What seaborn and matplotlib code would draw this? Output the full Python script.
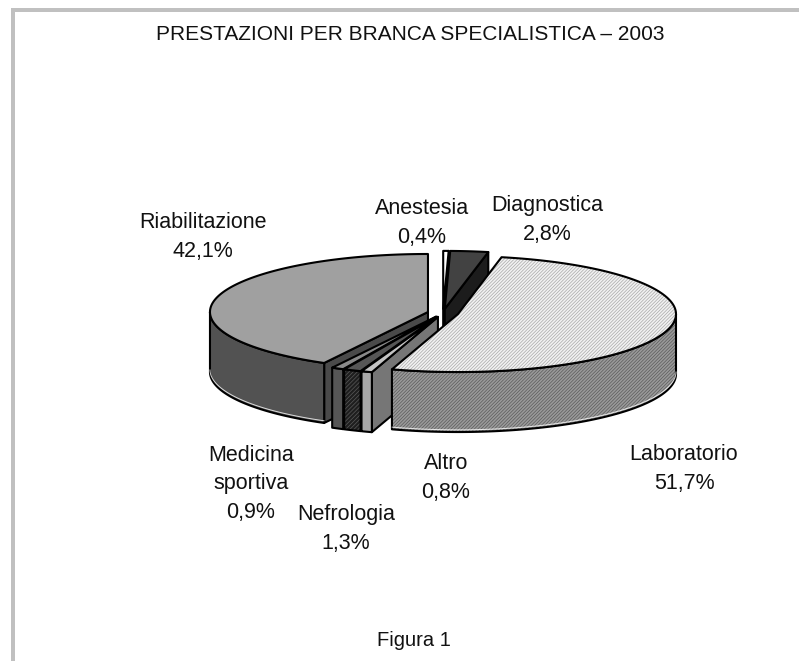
import numpy as np
import matplotlib
matplotlib.use("Agg")
import matplotlib.pyplot as plt
import seaborn as sns
from matplotlib.patches import Polygon

# values, clockwise from 12 o'clock
branches = ["Anestesia", "Diagnostica", "Laboratorio", "Altro", "Nefrologia", "Medicina\nsportiva", "Riabilitazione"]
shares = [0.4, 2.8, 51.7, 0.8, 1.3, 0.9, 42.1]
chart_title = "PRESTAZIONI PER BRANCA SPECIALISTICA – 2003"
figure_caption = "Figura 1"

# (top, outer wall, radial face, hatch on top, hatch on wall)
slice_styles = [
    ("#ffffff", "#ffffff", "#d0d0d0", None, None),
    ("#424242", "#2a2a2a", "#1c1c1c", None, None),
    ("#f2f2f2", "#9a9a9a", "#808080", "//////////", "//////////"),
    ("#c4c4c4", "#a8a8a8", "#767676", None, None),
    ("#555555", "#1e1e1e", "#3a3a3a", "////////", "////////"),
    ("#8a8a8a", "#565656", "#606060", None, None),
    ("#a0a0a0", "#525252", "#4a4a4a", None, None),
]
label_centres = [(422, 223), (547, 220), (684, 469), (446, 478), (346, 529), (251, 484), (203, 237)]

# pie geometry in pixels
CX, CY = 443, 313
RX, RY = 218, 58
DEPTH = 60
EXPLODE = 15.5


def edge_points(cx, cy, t):
    t = np.radians(t)
    return np.column_stack([cx + RX * np.sin(t), cy - RY * np.cos(t)])


def add_face(ax, pts, fc, hatch=None):
    if hatch:
        ax.add_patch(Polygon(pts, closed=True, facecolor=fc, edgecolor="#5a5a5a" if fc != "#f2f2f2" else "#a8a8a8",
                             hatch=hatch, linewidth=0))
    else:
        ax.add_patch(Polygon(pts, closed=True, facecolor=fc, edgecolor="none"))
    ax.add_patch(Polygon(pts, closed=True, facecolor="none", edgecolor="black", linewidth=1.5, joinstyle="round"))


def draw_slice(ax, t0, t1, style):
    top_c, wall_c, face_c, top_h, wall_h = style
    mid = np.radians((t0 + t1) / 2)
    cx = CX + EXPLODE * np.sin(mid)
    cy = CY - EXPLODE * np.cos(mid) * RY / RX
    down = np.array([0, DEPTH])
    apex = np.array([cx, cy])

    # radial faces that look towards the viewer
    if np.sin(np.radians(t0)) < -1e-6:
        p = edge_points(cx, cy, np.array([t0]))[0]
        add_face(ax, [apex, p, p + down, apex + down], face_c)
    if np.sin(np.radians(t1)) > 1e-6:
        p = edge_points(cx, cy, np.array([t1]))[0]
        add_face(ax, [apex, p, p + down, apex + down], face_c)

    # outer wall, only the front half shows
    a, b = max(t0, 90), min(t1, 270)
    if b > a:
        arc = edge_points(cx, cy, np.linspace(a, b, 120))
        add_face(ax, np.vstack([arc, (arc + down)[::-1]]), wall_c, wall_h)
        if b - a > 20:
            ax.plot(arc[:, 0], arc[:, 1] + DEPTH - 2.2, color="white", lw=0.7, alpha=0.8)

    arc = edge_points(cx, cy, np.linspace(t0, t1, 160))
    add_face(ax, np.vstack([apex, arc]), top_c, top_h)


sns.set_theme(style="white")
plt.rcParams["font.family"] = ["Liberation Sans", "DejaVu Sans"]
plt.rcParams["hatch.linewidth"] = 0.5

fig, ax = plt.subplots(figsize=(7.99, 6.61), dpi=100)
ax.set_position([0, 0, 1, 1])
ax.set_xlim(0, 799)
ax.set_ylim(661, 0)
ax.axis("off")

# grey frame of the page, open on the right and at the bottom
ax.fill_between([11, 799], 8, 12, color="#c0c0c0", lw=0)
ax.fill_between([11, 15], 8, 661, color="#c0c0c0", lw=0)

edges = np.concatenate([[0], np.cumsum(shares)]) * 3.6
for i in [0, 1, 6, 5, 4, 3, 2]:
    draw_slice(ax, edges[i], edges[i + 1], slice_styles[i])

for name, share, (x, y) in zip(branches, shares, label_centres):
    text = f"{name}\n{share:.1f}%".replace(".", ",")
    ax.text(x, y, text, ha="center", va="center", fontsize=15.5, color="#111111", linespacing=1.44)

ax.text(410, 34, chart_title, ha="center", va="center", fontsize=15, color="#111111")
ax.text(414, 640, figure_caption, ha="center", va="center", fontsize=14.5, color="#111111")

fig.savefig("out.png", dpi=100)
